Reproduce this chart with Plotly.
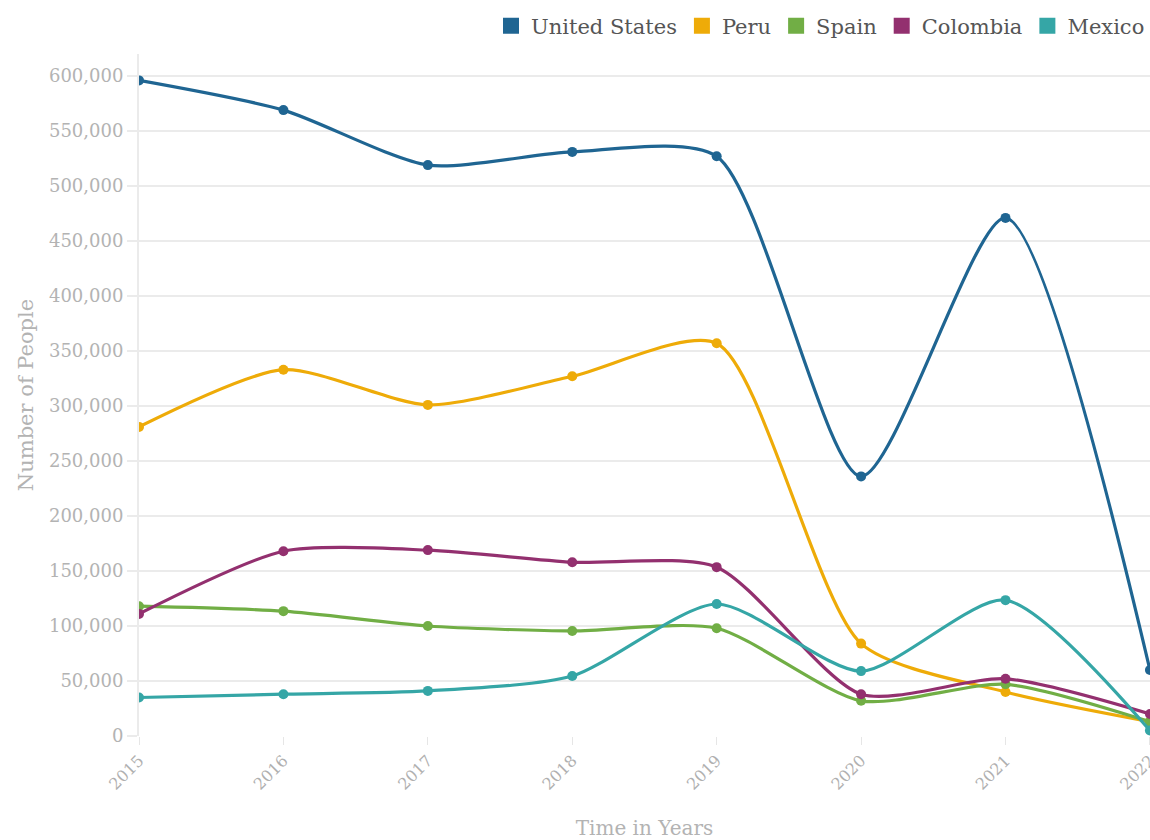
import plotly.graph_objects as go

years = [2015, 2016, 2017, 2018, 2019, 2020, 2021, 2022]
united_states = [596000, 569000, 519000, 531000, 527000, 236000, 471000, 60000]
peru = [281000, 333000, 301000, 327000, 357000, 84000, 40000, 13000]
spain = [118000, 113500, 100000, 95500, 98000, 32000, 47000, 13000]
colombia = [111000, 168000, 169000, 158000, 153500, 38000, 52000, 20000]
mexico = [35000, 38000, 41000, 54500, 120000, 59000, 123500, 5000]

series = [
    ("United States", united_states, "#1f6592"),
    ("Peru", peru, "#eeab08"),
    ("Spain", spain, "#71ae45"),
    ("Colombia", colombia, "#93306f"),
    ("Mexico", mexico, "#35a6a6"),
]

FONT = "DejaVu Serif"
fig = go.Figure()
for name, vals, col in series:
    fig.add_trace(go.Scatter(
        x=years, y=vals, name=name, mode="lines+markers",
        line=dict(color=col, width=3.2, shape="spline", smoothing=0.7),
        marker=dict(color=col, size=10),
        showlegend=False,
    ))
for name, vals, col in series:
    fig.add_trace(go.Scatter(
        x=[None], y=[None], name=name, mode="markers",
        marker=dict(color=col, size=20, symbol="square"),
        showlegend=True,
    ))

fig.update_layout(
    width=1150, height=840,
    paper_bgcolor="white", plot_bgcolor="white",
    margin=dict(l=139, r=0, t=54, b=104, autoexpand=False),
    font=dict(family=FONT, color="#b3b3b3"),
    legend=dict(orientation="h", x=1, xanchor="right", y=1.041, yanchor="middle",
                font=dict(size=21, color="#555555", family=FONT),
                itemsizing="trace", itemwidth=30, tracegroupgap=0),
    xaxis=dict(
        range=[2015, 2022.0005], tickmode="array", tickvals=years,
        ticktext=[str(y) for y in years], tickangle=-45,
        ticklabeloverflow="allow", automargin=False,
        tickfont=dict(size=16, color="#b0b0b0", family=FONT),
        showgrid=False, zeroline=False, showline=False,
        ticks="outside", ticklen=8, tickcolor="#e6e6e6",
        title=dict(text="Time in Years", font=dict(size=20, color="#b3b3b3", family=FONT), standoff=34),
    ),
    yaxis=dict(
        range=[0, 620000], tickvals=[0, 50000, 100000, 150000, 200000, 250000, 300000,
                                     350000, 400000, 450000, 500000, 550000, 600000],
        tickformat=",", tickfont=dict(size=18, color="#b3b3b3", family=FONT),
        showgrid=True, gridcolor="#ebebeb", gridwidth=2, automargin=False,
        zeroline=False, showline=True, linecolor="#ebebeb", linewidth=2,
        ticks="outside", ticklen=10, tickcolor="#ebebeb", tickwidth=2,
        title=dict(text="Number of People", font=dict(size=21, color="#b3b3b3", family=FONT), standoff=10),
    ),
)

fig.write_html("out.html", config={"displayModeBar": False},
               post_script="document.body.style.margin='0px';document.body.style.overflow='hidden';")
